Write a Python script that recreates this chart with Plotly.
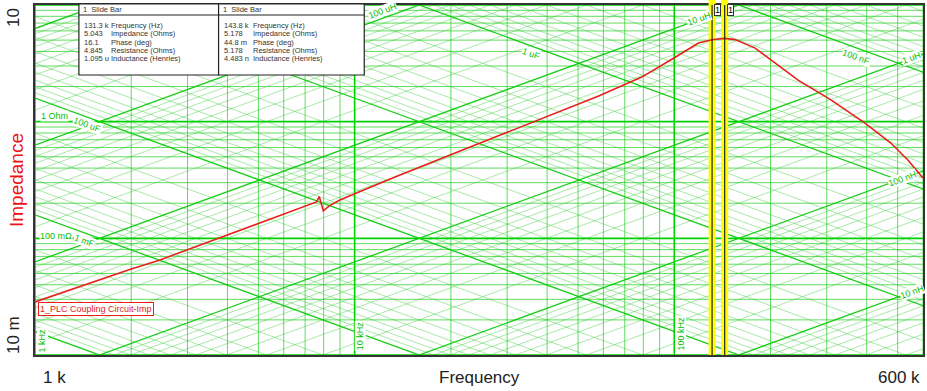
import numpy as np
import plotly.graph_objects as go

# ---------------- data ----------------
freq_hz = [1000, 2000, 2450, 4690, 6710, 7210, 7600, 7750, 7980, 8330, 8960,
           10300, 13800, 58000, 79100, 101000, 119000, 131300, 143800, 155000,
           179000, 207000, 244000, 310000, 395000, 476000, 538000, 600000]
impedance_ohm = [0.0285, 0.0546, 0.065, 0.125, 0.182, 0.193, 0.205, 0.228, 0.172,
                 0.190, 0.212, 0.249, 0.348, 1.66, 2.41, 3.58, 4.72, 5.043, 5.178,
                 5.05, 4.27, 3.18, 2.27, 1.53, 0.973, 0.656, 0.469, 0.329]

cursor_freqs = [131300, 143800]
cursor_left_values = ["131.3 k", "5.043", "16.1", "4.845", "1.095 u"]
cursor_right_values = ["143.8 k", "5.178", "44.8 m", "5.178", "4.483 n"]
cursor_quantities = ["Frequency (Hz)", "Impedance (Ohms)", "Phase (deg)",
                     "Resistance (Ohms)", "Inductance (Henries)"]

MANT = [1, 2, 3, 4, 5, 6, 7, 8, 9]
F_MIN, F_MAX = 1000, 600000
Z_MIN, Z_MAX = 0.01, 10
freq_grid = [m * 10 ** e for e in (3, 4, 5) for m in MANT if m * 10 ** e <= F_MAX]
imp_grid = [m * 10.0 ** e for e in (-2, -1, 0) for m in MANT] + [10.0]
ind_grid = [m * 10.0 ** e for e in range(-9, -2) for m in MANT]   # henries
cap_grid = [m * 10.0 ** e for e in range(-8, -1) for m in MANT]   # farads

# ---------------- helpers ----------------
L_PX, R_PX, T_PX, B_PX = 35, 925, 5, 355
def px(x):
    return (x - L_PX) / (R_PX - L_PX)
def py(y):
    return (B_PX - y) / (B_PX - T_PX)

def is_major(v):
    m = v / 10 ** np.floor(np.log10(v) + 1e-9)
    return abs(m - 1) < 1e-6

def segs(pairs):
    xs, ys = [], []
    for (x0, x1, y0, y1) in pairs:
        xs += [x0, x1, None]
        ys += [y0, y1, None]
    return xs, ys

TW = 2 * np.pi
fig = go.Figure()

def add_lines(pairs, color, width):
    xs, ys = segs(pairs)
    fig.add_trace(go.Scatter(x=xs, y=ys, mode="lines", hoverinfo="skip",
                             line=dict(color=color, width=width), showlegend=False))

minor_diag, major_diag = [], []
for L in ind_grid:
    p = (F_MIN, F_MAX, TW * F_MIN * L, TW * F_MAX * L)
    (major_diag if is_major(L) else minor_diag).append(p)
for C in cap_grid:
    p = (F_MIN, F_MAX, 1 / (TW * F_MIN * C), 1 / (TW * F_MAX * C))
    (major_diag if is_major(C) else minor_diag).append(p)

minor_hv, major_hv = [], []
for f in freq_grid:
    p = (f, f, Z_MIN, Z_MAX)
    (major_hv if is_major(f) else minor_hv).append(p)
for z in imp_grid:
    p = (F_MIN, F_MAX, z, z)
    (major_hv if is_major(z) else minor_hv).append(p)

add_lines(minor_diag, "rgba(50,200,50,0.42)", 1)
add_lines(minor_hv, "rgba(30,205,30,0.7)", 1)
add_lines(major_diag, "rgba(0,200,0,0.9)", 1.3)
add_lines(major_hv, "rgb(0,210,0)", 1.6)

# cursor bars (yellow)
for f in cursor_freqs:
    fig.add_trace(go.Scatter(x=[f, f], y=[Z_MIN, Z_MAX], mode="lines", hoverinfo="skip",
                             line=dict(color="#ffff00", width=7), showlegend=False))

# impedance curve
fig.add_trace(go.Scatter(x=freq_hz, y=impedance_ohm, mode="lines",
                         line=dict(color="#e8201c", width=1.6), showlegend=False))

for f in cursor_freqs:
    fig.add_trace(go.Scatter(x=[f, f], y=[Z_MIN, Z_MAX], mode="lines", hoverinfo="skip",
                             line=dict(color="#222222", width=1.2), showlegend=False))

FONT = "Liberation Sans, Arial, sans-serif"
shapes, annotations = [], []

def ann(**kw):
    d = dict(showarrow=False, xanchor="center", yanchor="middle")
    d.update(kw)
    annotations.append(d)

# yellow above frame
for f in cursor_freqs:
    shapes.append(dict(type="line", xref="x", yref="paper", x0=f, x1=f, y0=1, y1=1.016,
                       line=dict(color="#ffff00", width=7), layer="above"))
    ann(x=np.log10(f), y=py(10), xref="x", yref="paper", text="1",
        xshift=5.5, bgcolor="white", bordercolor="#333", borderwidth=1, borderpad=0,
        font=dict(family=FONT, size=9, color="black"))

# slide-bar panels
shapes.append(dict(type="rect", xref="paper", yref="paper", x0=px(79), x1=px(219),
                   y0=py(75), y1=py(4), fillcolor="white", line=dict(color="#222", width=1.2),
                   layer="above"))
shapes.append(dict(type="rect", xref="paper", yref="paper", x0=px(219), x1=px(365),
                   y0=py(75), y1=py(4), fillcolor="white", line=dict(color="#222", width=1.2),
                   layer="above"))
shapes.append(dict(type="line", xref="paper", yref="paper", x0=px(79), x1=px(365),
                   y0=py(15), y1=py(15), line=dict(color="#222", width=1), layer="above"))

box_font = dict(family=FONT, size=7.5, color="#333")
for x0 in (81, 221):
    ann(x=px(x0), y=py(10), xref="paper", yref="paper", text="1  Slide Bar",
        xanchor="left", font=box_font)
row_y = [25, 33.5, 42, 50.5, 59]
for i, q in enumerate(cursor_quantities):
    for (xv, xq, vals) in ((82, 109, cursor_left_values), (222, 251, cursor_right_values)):
        ann(x=px(xv), y=py(row_y[i]), xref="paper", yref="paper", text=vals[i],
            xanchor="left", font=box_font)
        ann(x=px(xq), y=py(row_y[i]), xref="paper", yref="paper", text=q,
            xanchor="left", font=box_font)

# grid labels
green = "rgb(0,190,0)"
grid_labels = [
    ("1 Ohm", 55, 116, 0), ("100 uF", 88, 125, 20), ("100 mΩ", 56, 236, 0),
    ("1 mF", 85, 241, 20), ("1 uF", 533, 54, 20), ("100 uH", 383, 11, -20),
    ("10 uH", 700, 19, -20), ("100 nF", 858, 57, 20), ("1 uH", 913, 58, -20),
    ("100 nH", 904, 179, -20), ("10 nH", 914, 292, -20),
    ("1 kHz", 42.5, 340, -90), ("10 kHz", 361, 336, -90), ("100 kHz", 682, 334, -90),
]
for (t, x, y, a) in grid_labels:
    ann(x=px(x), y=py(y), xref="paper", yref="paper", text=t, textangle=a,
        bgcolor="white", borderpad=0, font=dict(family=FONT, size=9, color=green))

# trace legend box
ann(x=px(96), y=py(308.5), xref="paper", yref="paper",
    text="1_PLC Coupling Circuit-Imp", bgcolor="white", bordercolor="#e8201c",
    borderwidth=1, borderpad=1, font=dict(family=FONT, size=9, color="#e8201c"))

# axis texts
big = dict(family=FONT, size=17, color="#222")
ann(x=px(13), y=py(18), xref="paper", yref="paper", text="10", textangle=-90, font=big)
ann(x=px(13), y=py(335), xref="paper", yref="paper", text="10 m", textangle=-90, font=big)
ann(x=px(16), y=py(180), xref="paper", yref="paper", text="Impedance", textangle=-90,
    font=dict(family=FONT, size=19, color="#ee1111"))
ann(x=px(55), y=py(378), xref="paper", yref="paper", text="1 k", font=big)
ann(x=px(480), y=py(378), xref="paper", yref="paper", text="Frequency", font=big)
ann(x=px(924), y=py(378), xref="paper", yref="paper", text="600 k", xanchor="right", font=big)

axis_common = dict(type="log", showgrid=False, showticklabels=False, ticks="",
                   zeroline=False, showline=True, linecolor="#333", linewidth=1.5,
                   mirror=True, fixedrange=True)
fig.update_layout(
    width=927, height=391,
    margin=dict(l=L_PX, r=927 - R_PX, t=T_PX, b=391 - B_PX),
    paper_bgcolor="white", plot_bgcolor="white",
    xaxis=dict(range=[np.log10(F_MIN), np.log10(F_MAX)], **axis_common),
    yaxis=dict(range=[np.log10(Z_MIN), np.log10(Z_MAX)], **axis_common),
    shapes=shapes, annotations=annotations, showlegend=False,
)
fig.write_html("out.html")
